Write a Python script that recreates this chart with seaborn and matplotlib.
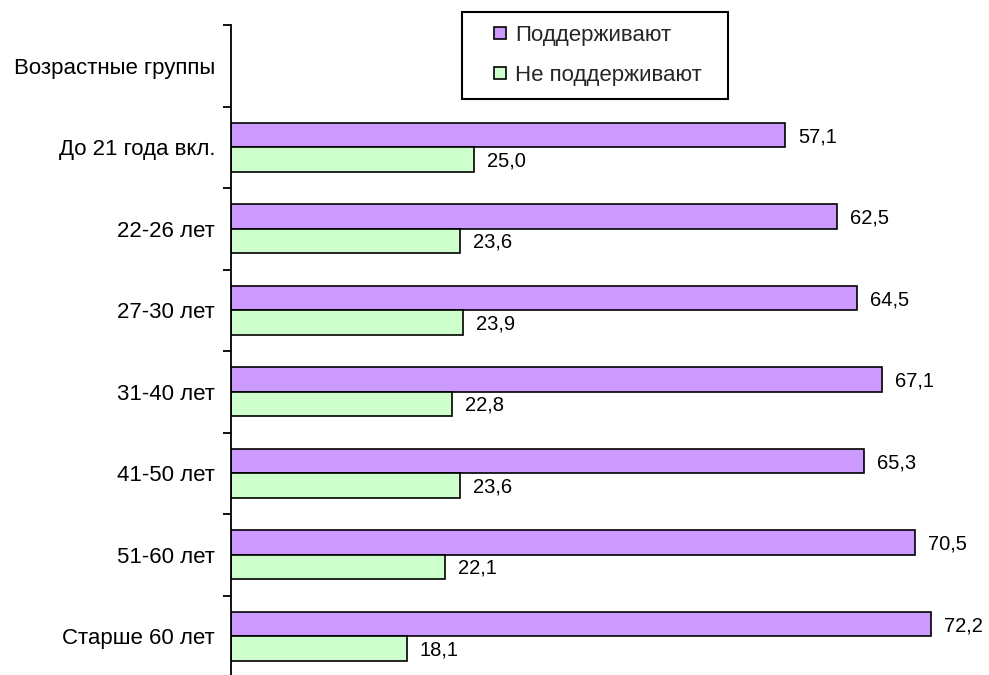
import matplotlib
matplotlib.use("Agg")
import matplotlib.pyplot as plt
from matplotlib.lines import Line2D
import numpy as np
import pandas as pd
import seaborn as sns

# ---- data ----
categories = ["Возрастные группы", "До 21 года вкл.", "22-26 лет", "27-30 лет",
              "31-40 лет", "41-50 лет", "51-60 лет", "Старше 60 лет"]
groups = categories[1:]
support = [57.1, 62.5, 64.5, 67.1, 65.3, 70.5, 72.2]
not_support = [25.0, 23.6, 23.9, 22.8, 23.6, 22.1, 18.1]
series_names = ["Поддерживают", "Не поддерживают"]
colors = ["#CC99FF", "#CCFFCC"]

df = pd.DataFrame({
    "group": groups * 2,
    "value": support + not_support,
    "series": [series_names[0]] * len(groups) + [series_names[1]] * len(groups),
})

sns.set_style("white")
plt.rcParams["font.family"] = ["Liberation Sans", "DejaVu Sans"]
FS_LABEL = 16
FS_VALUE = 14.5

fig = plt.figure(figsize=(9.89, 6.75), dpi=100)
ax = fig.add_axes([231 / 989, -2 / 675, (989 - 231) / 989, 652 / 675])

sns.barplot(data=df, y="group", x="value", hue="series", order=categories,
            hue_order=series_names, palette=colors, orient="h", width=0.6,
            edgecolor="black", linewidth=1.2, saturation=1, legend=False, ax=ax)

ax.set_xlim(0, (989 - 231) / 9.7)
ax.set_ylim(len(categories) - 0.5, -0.5)

for cont in ax.containers:
    for bar in cont:
        w = bar.get_width()
        if not np.isfinite(w) or w == 0:
            continue
        yc = bar.get_y() + bar.get_height() / 2
        ax.annotate(f"{w:.1f}".replace(".", ","), xy=(w, yc), xytext=(13, -1.5),
                    textcoords="offset pixels", ha="left", va="center",
                    fontsize=FS_VALUE, color="black")

ax.set_yticks(range(len(categories)))
ax.set_yticklabels(categories, fontsize=FS_LABEL, color="black")
ax.set_yticks(np.arange(-0.5, len(categories), 1), minor=True)
ax.tick_params(axis="y", which="major", length=0, pad=11.5)
ax.tick_params(axis="y", which="minor", length=6, width=1.3, direction="out",
               color="black", left=True)
ax.set_xticks([])
ax.set_xlabel("")
ax.set_ylabel("")
for s in ["top", "right", "bottom"]:
    ax.spines[s].set_visible(False)
ax.spines["left"].set_color("black")
ax.spines["left"].set_linewidth(1.3)

handles = [Line2D([], [], marker="s", linestyle="none", markersize=9,
                  markerfacecolor=c, markeredgecolor="black", markeredgewidth=1.2)
           for c in colors]
leg = fig.legend(handles, series_names, loc="upper left",
                 bbox_to_anchor=(462 / 989, 0, 266 / 989, 1 - 12 / 675),
                 bbox_transform=fig.transFigure, mode="expand",
                 frameon=True, fancybox=False, framealpha=1, edgecolor="black",
                 fontsize=FS_LABEL, borderpad=0.58, handlelength=2.25, handletextpad=-0.45,
                 labelspacing=0.86, borderaxespad=0)
leg.get_frame().set_linewidth(1.5)

fig.savefig("out.png", dpi=100, facecolor="white")
